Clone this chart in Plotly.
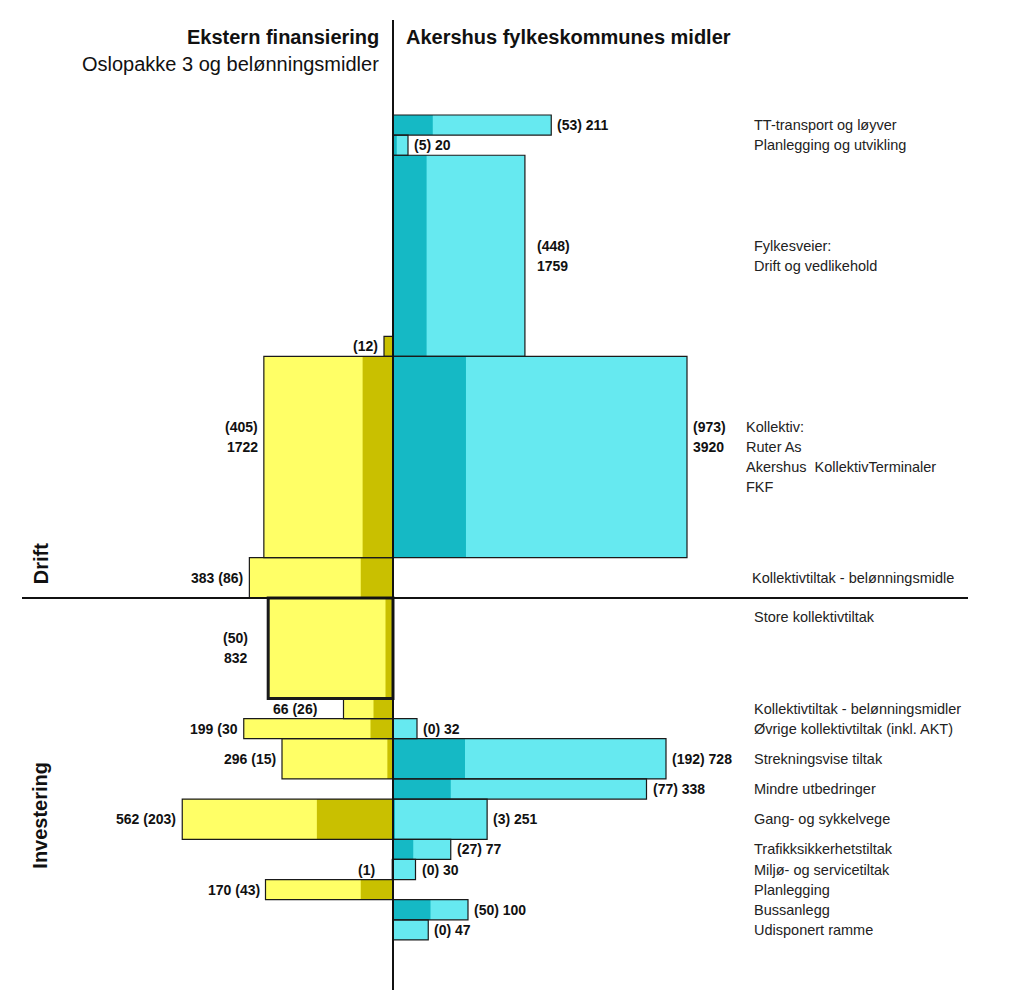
import plotly.graph_objects as go

# ---------------- data ----------------
categories = [
    "TT-transport og løyver",
    "Planlegging og utvikling",
    "Fylkesveier:|Drift og vedlikehold",
    "Kollektiv:|Ruter As|Akershus  KollektivTerminaler|FKF",
    "Kollektivtiltak - belønningsmidle",
    "Store kollektivtiltak",
    "Kollektivtiltak - belønningsmidler",
    "Øvrige kollektivtiltak (inkl. AKT)",
    "Strekningsvise tiltak",
    "Mindre utbedringer",
    "Gang- og sykkelvege",
    "Trafikksikkerhetstiltak",
    "Miljø- og servicetiltak",
    "Planlegging",
    "Bussanlegg",
    "Udisponert ramme",
]
section = ["Drift"] * 5 + ["Investering"] * 11
row_units = [1, 1, 10, 10, 2, 5, 1, 1, 2, 1, 2, 1, 1, 1, 1, 1]

akershus_total = [211, 20, 1759, 3920, None, None, None, 32, 728, 338, 251, 77, 30, None, 100, 47]
akershus_part = [53, 5, 448, 973, None, None, None, 0, 192, 77, 3, 27, 0, None, 50, 0]
akershus_labels = ["(53) 211", "(5) 20", "(448)|1759", "(973)|3920", "", "", "", "(0) 32",
                   "(192) 728", "(77) 338", "(3) 251", "(27) 77", "(0) 30", "", "(50) 100", "(0) 47"]

ekstern_total = [None, None, 12, 1722, 383, 832, 66, 199, 296, None, 562, None, 1, 170, None, None]
ekstern_part = [None, None, 12, 405, 86, 50, 26, 30, 15, None, 203, None, 1, 43, None, None]
ekstern_units = [None, None, 1, 10, 2, 5, 1, 1, 2, None, 2, None, 1, 1, None, None]
ekstern_labels = ["", "", "(12)", "(405)|1722", "383 (86)", "(50)|832", "66 (26)", "199 (30",
                  "296 (15)", "", "562 (203)", "", "(1)", "170 (43)", "", ""]

header_left = "Ekstern finansiering"
subheader_left = "Oslopakke 3 og belønningsmidler"
header_right = "Akershus fylkeskommunes midler"

# ---------------- style / geometry ----------------
W, H = 1024, 1004
ORIGIN_X, ORIGIN_Y = 393, 115          # pixel position of value 0 / first row top
PX_PER_RATE = 0.75                      # px per (value / unit)
PX_PER_UNIT = 20.12                     # px per row unit
FONT = "Liberation Sans, Arial, sans-serif"
CY_LIGHT, CY_DARK = "#66E9F0", "#15B9C5"
YE_LIGHT, YE_DARK = "#FFFF66", "#C9C000"
EDGE = "#1a1a1a"

row_top = []
acc = 0
for u in row_units:
    row_top.append(acc)
    acc += u
row_center = [t + u / 2 for t, u in zip(row_top, row_units)]
drift_units = sum(u for u, s in zip(row_units, section) if s == "Drift")

fig = go.Figure()

# right side (Akershus)
ri = [i for i, v in enumerate(akershus_total) if v is not None]
r_y = [row_center[i] for i in ri]
r_w = [row_units[i] for i in ri]
r_len = [akershus_total[i] / row_units[i] for i in ri]
r_part = [akershus_part[i] / row_units[i] for i in ri]

# left side (ekstern)
li = [i for i, v in enumerate(ekstern_total) if v is not None]
l_y = [row_top[i] + row_units[i] - ekstern_units[i] / 2 for i in li]
l_w = [ekstern_units[i] for i in li]
l_len = [-ekstern_total[i] / ekstern_units[i] for i in li]
l_part = [-ekstern_part[i] / ekstern_units[i] for i in li]
l_edge = [3 if categories[i] == "Store kollektivtiltak" else 1.2 for i in li]

def bar(y, x, w, color, line_w=0, line_color=EDGE):
    return go.Bar(orientation="h", y=y, x=x, width=w, base=0,
                  marker=dict(color=color, line=dict(width=line_w, color=line_color)),
                  hoverinfo="skip", showlegend=False)

fig.add_trace(bar(r_y, r_len, r_w, CY_LIGHT))
fig.add_trace(bar(r_y, r_part, r_w, CY_DARK))
fig.add_trace(bar(r_y, r_len, r_w, "rgba(0,0,0,0)", 1.2))
fig.add_trace(bar(l_y, l_len, l_w, YE_LIGHT))
fig.add_trace(bar(l_y, l_part, l_w, YE_DARK))
fig.add_trace(bar(l_y, l_len, l_w, "rgba(0,0,0,0)", l_edge))

ann = []
num_font = dict(family=FONT, size=14, color="#111111")
cat_font = dict(family=FONT, size=14.5, color="#222222")

# per-label style tweaks (index -> value)
num_line_offset = {3: -1.0}
left_xshift = {5: -18, 6: -25, 12: -15}
right_xshift = {2: 10}
cat_offset = {5: -1.55}
cat_x = {3: 744, 4: 750}

def multiline(text, center, offset=0.0):
    lines = text.split("|")
    n = len(lines)
    return [(ln, center + offset + (k - (n - 1) / 2)) for k, ln in enumerate(lines)]

for i in range(len(categories)):
    if akershus_labels[i]:
        xlen = akershus_total[i] / row_units[i]
        for ln, yy in multiline(akershus_labels[i], row_center[i], num_line_offset.get(i, 0)):
            ann.append(dict(x=xlen, y=yy, xref="x", yref="y", text="<b>%s</b>" % ln,
                            xanchor="left", yanchor="middle", xshift=right_xshift.get(i, 4),
                            showarrow=False, font=num_font))
    if ekstern_labels[i]:
        xlen = -ekstern_total[i] / ekstern_units[i]
        yc = row_top[i] + row_units[i] - ekstern_units[i] / 2
        for ln, yy in multiline(ekstern_labels[i], yc, num_line_offset.get(i, 0)):
            ann.append(dict(x=xlen, y=yy, xref="x", yref="y", text="<b>%s</b>" % ln,
                            xanchor="right", yanchor="middle", xshift=left_xshift.get(i, -4),
                            showarrow=False, font=num_font))
    for ln, yy in multiline(categories[i], row_center[i], cat_offset.get(i, 0)):
        ann.append(dict(x=cat_x.get(i, 752) / W, y=yy, xref="paper", yref="y", text=ln,
                        xanchor="left", yanchor="middle", showarrow=False, font=cat_font))

# headers
ann.append(dict(x=381 / W, y=1 - 37 / H, xref="paper", yref="paper", text="<b>%s</b>" % header_left,
                xanchor="right", yanchor="middle", showarrow=False,
                font=dict(family=FONT, size=20, color="#111111")))
ann.append(dict(x=404 / W, y=1 - 37 / H, xref="paper", yref="paper", text="<b>%s</b>" % header_right,
                xanchor="left", yanchor="middle", showarrow=False,
                font=dict(family=FONT, size=20, color="#111111")))
ann.append(dict(x=381 / W, y=1 - 64 / H, xref="paper", yref="paper", text=subheader_left,
                xanchor="right", yanchor="middle", showarrow=False,
                font=dict(family=FONT, size=20, color="#111111")))

# section labels
drift_rows = [i for i, s in enumerate(section) if s == "Drift"]
inv_rows = [i for i, s in enumerate(section) if s == "Investering"]
ann.append(dict(x=40.5 / W, y=drift_units - 1.7, xref="paper", yref="y", text="<b>Drift</b>",
                textangle=-90, xanchor="center", yanchor="middle", showarrow=False,
                font=dict(family=FONT, size=20, color="#111111")))
ann.append(dict(x=40.5 / W, y=drift_units + 10.8, xref="paper", yref="y", text="<b>Investering</b>",
                textangle=-90, xanchor="center", yanchor="middle", showarrow=False,
                font=dict(family=FONT, size=20, color="#111111")))

shapes = [
    dict(type="line", xref="x", yref="paper", x0=0, x1=0, y0=1 - 20 / H, y1=1 - 990 / H,
         line=dict(color="#111111", width=2)),
    dict(type="line", xref="paper", yref="y", x0=22 / W, x1=968 / W, y0=drift_units, y1=drift_units,
         line=dict(color="#111111", width=2)),
]

fig.update_layout(
    width=W, height=H,
    margin=dict(l=0, r=0, t=0, b=0),
    paper_bgcolor="white", plot_bgcolor="white",
    barmode="overlay",
    xaxis=dict(range=[-ORIGIN_X / PX_PER_RATE, (W - ORIGIN_X) / PX_PER_RATE],
               visible=False, fixedrange=True),
    yaxis=dict(range=[(H - ORIGIN_Y) / PX_PER_UNIT, -ORIGIN_Y / PX_PER_UNIT],
               visible=False, fixedrange=True),
    annotations=ann,
    shapes=shapes,
    showlegend=False,
)

fig.write_html("out.html", config={"displayModeBar": False},
               post_script="document.body.style.margin='0';document.body.style.overflow='hidden';")
